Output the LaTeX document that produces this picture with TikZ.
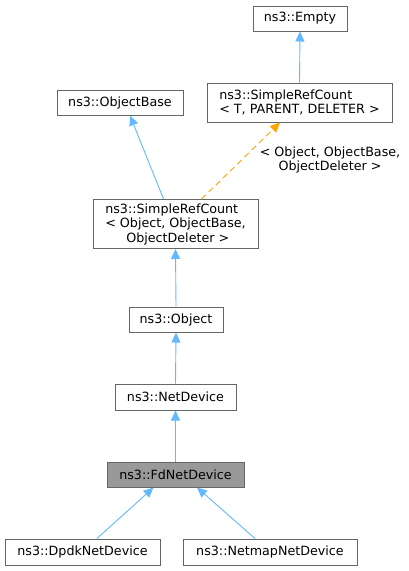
\documentclass[tikz,border=0pt]{standalone}
\usepackage{fontspec}
\setmainfont{DejaVu Sans}
\usetikzlibrary{arrows.meta}
\definecolor{edgeblue}{HTML}{63B8FF}
\definecolor{edgeorange}{HTML}{FFA500}
\definecolor{boxgray}{HTML}{999999}
\definecolor{boxline}{HTML}{666666}

\begin{document}
\begin{tikzpicture}[x = 1pt, y = -1pt,
    cls/.style = {shape = rectangle, draw = boxline, line width = 1pt, fill = white, inner sep = 0pt, font = \fontsize{12.7}{14.5}\selectfont},
    inherit/.style = {draw = edgeblue, line width = 0.9pt, -{Triangle[length = 10pt, width = 9pt]}},
    templ/.style = {draw = edgeorange, line width = 0.9pt, dash pattern = on 6pt off 4pt, -{Triangle[length = 10pt, width = 9pt]}}]
    \useasboundingbox (0,0) rectangle (409,571);
    \node[cls, minimum width = 94pt, minimum height = 25pt] (Empty) at (300,18.5) {ns3::Empty};
    \node[cls, minimum width = 185pt, minimum height = 39pt, align = left] (RefT) at (299.5,102.5) {ns3::SimpleRefCount\\< T, PARENT, DELETER >};
    \node[cls, minimum width = 126pt, minimum height = 25pt] (ObjBase) at (120,102.5) {ns3::ObjectBase};
    \node[cls, minimum width = 165pt, minimum height = 49pt, align = left] (RefObj) at (175.5,224) {ns3::SimpleRefCount\\< Object, ObjectBase,\\\hspace*{21pt}ObjectDeleter >};
    \node[cls, minimum width = 94pt, minimum height = 25pt] (Obj) at (176,319.5) {ns3::Object};
    \node[cls, minimum width = 121pt, minimum height = 26pt] (NetDev) at (175.5,397) {ns3::NetDevice};
    \node[cls, fill = boxgray, minimum width = 137pt, minimum height = 25pt] (FdDev) at (175.5,474.5) {ns3::FdNetDevice};
    \node[cls, minimum width = 155pt, minimum height = 26pt] (Dpdk) at (82.5,552) {ns3::DpdkNetDevice};
    \node[cls, minimum width = 174pt, minimum height = 26pt] (Netmap) at (270,552) {ns3::NetmapNetDevice};
    \node[font = \fontsize{12.7}{14.5}\selectfont, align = center] (Args) at (330,160) {< Object, ObjectBase,\\ObjectDeleter >};

    \draw[inherit] (RefT.north) -- (Empty.south);
    \draw[inherit] ([xshift = -12pt]RefObj.north) -- ([xshift = 10pt]ObjBase.south);
    \draw[templ] ([xshift = 26pt]RefObj.north) -- ([xshift = -19.5pt]RefT.south);
    \draw[inherit] (Obj.north) -- (RefObj.south);
    \draw[inherit] (NetDev.north) -- (Obj.south);
    \draw[inherit] (FdDev.north) -- (NetDev.south);
    \draw[inherit] ([xshift = 14.5pt]Dpdk.north) -- ([xshift = -22pt]FdDev.south);
    \draw[inherit] ([xshift = -15pt]Netmap.north) -- ([xshift = 21.5pt]FdDev.south);
\end{tikzpicture}
\end{document}
